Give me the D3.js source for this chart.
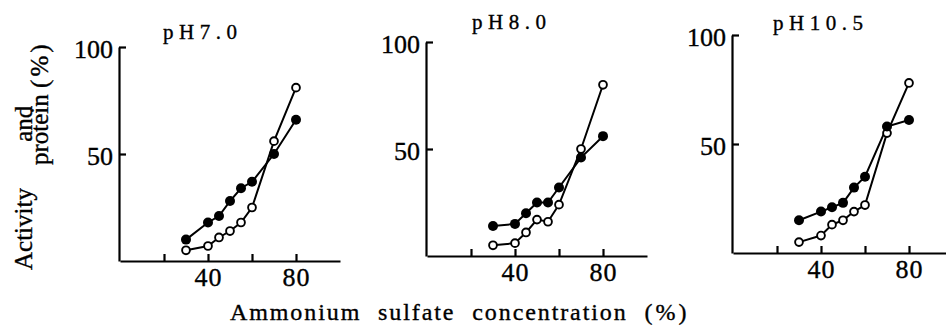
<!DOCTYPE html>
<html>
<head>
<meta charset="utf-8">
<script src="https://cdn.jsdelivr.net/npm/d3@7"></script>
<style>
  html, body { margin: 0; padding: 0; background: #fff; }
  svg { display: block; }
  text { font-family: "Liberation Serif", "Times New Roman", serif; fill: #000; }
  .ink { stroke: #000; stroke-width: 0.35px; }
</style>
</head>
<body>
<svg id="chart" width="946" height="334"></svg>
<script>
// Ammonium sulfate concentrations (%) at which fractions were taken
const concentrations = [30, 40, 45, 50, 55, 60, 70, 80];

// Panel titles
const panelTitles = ["pH7.0", "pH8.0", "pH10.5"];

// Filled circles (●) per panel, %
const activityPH70  = [10, 18, 21, 28, 34, 37, 50, 66];
const activityPH80  = [14, 15, 20, 25, 25, 32, 46, 56];
const activityPH105 = [15, 19, 21, 23, 30, 35, 58, 61];

// Open circles (○) per panel, %
const proteinPH70  = [5, 7, 11, 14, 18, 25, 56, 81];
const proteinPH80  = [5, 6, 11, 17, 16, 24, 50, 80];
const proteinPH105 = [5, 8, 13, 15, 19, 22, 55, 78];

// Axis ticks
const xTicks = [20, 40, 60, 80];
const xTickLabels = [40, 80];
const yTicks = [50, 100];

const activitySeries = [activityPH70, activityPH80, activityPH105];
const proteinSeries = [proteinPH70, proteinPH80, proteinPH105];

// Frame of each small panel on the page
const frames = [
  { left: 120, right: 340, bottom: 261, top: 47, titleX: 163, titleY: 39 },
  { left: 427, right: 647, bottom: 256, top: 42, titleX: 472, titleY: 28.5 },
  { left: 733, right: 953, bottom: 253, top: 35, titleX: 773, titleY: 29.5 }
];

const svg = d3.select("#chart");

frames.forEach((f, i) => {
  const x = d3.scaleLinear().domain([0, 100]).range([f.left, f.right]);
  const y = d3.scaleLinear().domain([0, 100]).range([f.bottom, f.top]);
  const g = svg.append("g");

  // y axis: ticks point inward, labels outside
  const yAxis = g.append("g")
    .attr("transform", `translate(${f.left - 1},0)`)
    .call(d3.axisLeft(y).tickValues(yTicks).tickSizeInner(-7).tickSizeOuter(0).tickPadding(6));
  yAxis.select(".domain").attr("stroke", "#000").attr("stroke-width", 2.2);
  yAxis.selectAll(".tick line").attr("stroke", "#000").attr("stroke-width", 2.2);
  yAxis.selectAll(".tick text")
    .attr("class", "ink")
    .attr("font-size", 26).attr("font-family", null)
    .attr("dy", "0.42em").attr("fill", "#000");

  // x axis: inward ticks, only some labelled
  const xAxis = g.append("g")
    .attr("transform", `translate(0,${f.bottom})`)
    .call(d3.axisBottom(x).tickValues(xTicks).tickSizeInner(-7).tickSizeOuter(0)
      .tickFormat(d => xTickLabels.includes(d) ? d : ""));
  xAxis.select(".domain").attr("stroke", "#000").attr("stroke-width", 2.2);
  xAxis.selectAll(".tick line").attr("stroke", "#000").attr("stroke-width", 2.2);
  xAxis.selectAll(".tick text")
    .attr("class", "ink")
    .attr("font-size", 26).attr("font-family", null)
    .attr("y", 25).attr("dy", 0).attr("letter-spacing", 1).attr("fill", "#000");

  // panel title
  g.append("text")
    .attr("class", "ink")
    .attr("x", f.titleX).attr("y", f.titleY)
    .attr("font-size", 21).attr("letter-spacing", 5.5)
    .text(panelTitles[i]);

  const line = d3.line().x(d => x(d[0])).y(d => y(d[1]));
  const openPts = concentrations.map((c, k) => [c, proteinSeries[i][k]]);
  const filledPts = concentrations.map((c, k) => [c, activitySeries[i][k]]);

  g.append("path").datum(openPts).attr("d", line)
    .attr("fill", "none").attr("stroke", "#000").attr("stroke-width", 2);
  g.append("path").datum(filledPts).attr("d", line)
    .attr("fill", "none").attr("stroke", "#000").attr("stroke-width", 2);

  g.selectAll(".open").data(openPts).join("circle")
    .attr("cx", d => x(d[0])).attr("cy", d => y(d[1])).attr("r", 3.9)
    .attr("fill", "#fff").attr("stroke", "#000").attr("stroke-width", 1.9);
  g.selectAll(".filled").data(filledPts).join("circle")
    .attr("cx", d => x(d[0])).attr("cy", d => y(d[1])).attr("r", 5)
    .attr("fill", "#000");
});

// shared y-axis title, two lines
const yTitle = svg.append("g");
yTitle.append("text")
  .attr("class", "ink")
  .attr("transform", "translate(32,270) rotate(-90)")
  .attr("font-size", 25).attr("word-spacing", 40)
  .text("Activity and");
const yLine2 = yTitle.append("text")
  .attr("class", "ink")
  .attr("transform", "translate(48,165) rotate(-90)")
  .attr("font-size", 25);
yLine2.append("tspan").text("protein ");
yLine2.append("tspan").attr("letter-spacing", 3).text("(%)");

// shared x-axis title
const xTitle = svg.append("text")
  .attr("class", "ink")
  .attr("x", 230).attr("y", 320)
  .attr("font-size", 24).attr("letter-spacing", 1.9).attr("word-spacing", 9);
xTitle.append("tspan").text("Ammonium sulfate concentration ");
xTitle.append("tspan").attr("letter-spacing", 3).text("(%)");
</script>
</body>
</html>
